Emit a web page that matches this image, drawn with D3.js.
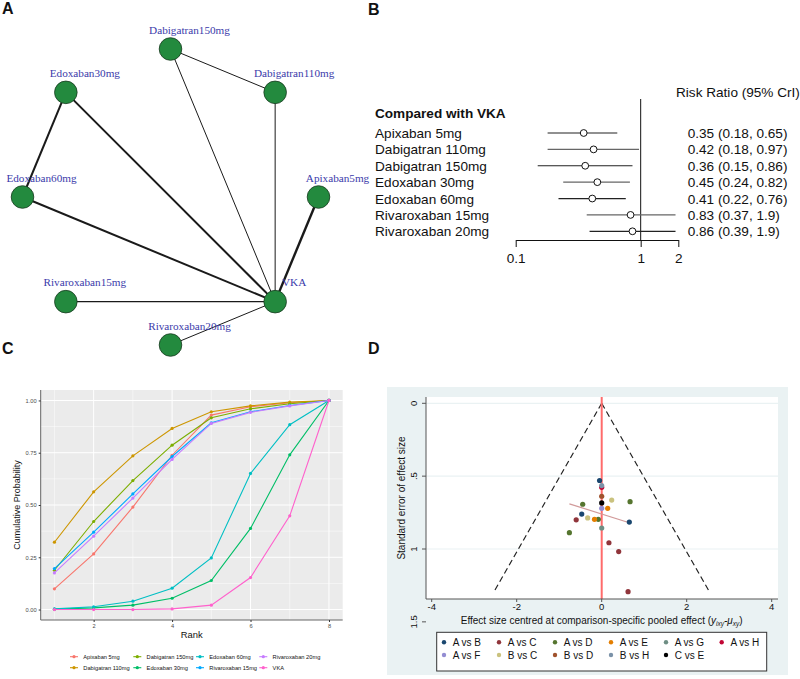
<!DOCTYPE html>
<html><head><meta charset="utf-8">
<script src="https://cdn.jsdelivr.net/npm/d3@7"></script>
<style>body{margin:0;background:#fff} svg{display:block} text{font-family:"Liberation Sans",Arial,sans-serif}</style>
</head><body>
<svg id="c" width="800" height="679"></svg>
<script>
// ---------------- DATA ----------------
// Panel A: network
const netNodes = ["Dabigatran150mg","Dabigatran110mg","Apixaban5mg","VKA","Rivaroxaban20mg","Rivaroxaban15mg","Edoxaban60mg","Edoxaban30mg"];
const netEdgeFrom = ["Dabigatran150mg","Dabigatran150mg","Dabigatran110mg","Edoxaban30mg","Edoxaban30mg","Edoxaban60mg","Apixaban5mg","Rivaroxaban15mg","Rivaroxaban20mg"];
const netEdgeTo   = ["Dabigatran110mg","VKA","VKA","Edoxaban60mg","VKA","VKA","VKA","VKA","VKA"];
const netEdgeWeight = [1,1,1,2,2,2,2.4,1.2,1];

// Panel B: forest
const forestLabels = ["Apixaban 5mg","Dabigatran 110mg","Dabigatran 150mg","Edoxaban 30mg","Edoxaban 60mg","Rivaroxaban 15mg","Rivaroxaban 20mg"];
const rrEst  = [0.35,0.42,0.36,0.45,0.41,0.83,0.86];
const rrLow  = [0.18,0.18,0.15,0.24,0.22,0.37,0.39];
const rrHigh = [0.65,0.97,0.86,0.82,0.76,1.9,1.9];
const rrTicks = [0.1,1,2];

// Panel C: cumulative ranking
const rankSeries = ["Apixaban 5mg","Dabigatran 110mg","Dabigatran 150mg","Edoxaban 30mg","Edoxaban 60mg","Rivaroxaban 15mg","Rivaroxaban 20mg","VKA"];
const ranks = [1,2,3,4,5,6,7,8];
const cumApixaban5   = [0.099,0.266,0.490,0.738,0.930,0.970,0.989,1];
const cumDabigatran110 = [0.322,0.563,0.735,0.866,0.946,0.974,0.992,1];
const cumDabigatran150 = [0.188,0.421,0.617,0.786,0.917,0.960,0.984,1];
const cumEdoxaban30  = [0.002,0.008,0.021,0.054,0.139,0.388,0.740,1];
const cumEdoxaban60  = [0.003,0.013,0.040,0.102,0.247,0.651,0.884,1];
const cumRivaroxaban15 = [0.196,0.370,0.553,0.732,0.893,0.946,0.976,1];
const cumRivaroxaban20 = [0.175,0.351,0.533,0.718,0.890,0.943,0.974,1];
const cumVKA         = [0.000,0.000,0.000,0.003,0.021,0.153,0.448,1];
const rankYTicks = [0,0.25,0.5,0.75,1];
const rankXTicks = [2,4,6,8];

// Panel D: comparison-adjusted funnel
const funnelGroups = ["A vs B","A vs C","A vs D","A vs E","A vs G","A vs H","A vs F","B vs C","B vs D","B vs H","C vs E"];
const funnelPtGroup = ["A vs B","A vs B","A vs B","A vs C","A vs C","A vs C","A vs C","A vs D","A vs D","A vs D","A vs D","A vs E","A vs E","A vs G","A vs H","A vs F","B vs C","B vs C","B vs D","B vs H","C vs E"];
const funnelPtX  = [-0.05,-0.47,0.65,-0.60,0.17,0.40,0.62,0.667,-0.447,-0.08,-0.76,0.141,-0.17,0.00,0.00,0.00,0.235,-0.33,0.00,0.00,0.00];
const funnelPtSE = [0.530,0.760,0.815,0.800,0.957,1.018,1.293,0.675,0.693,0.796,0.888,0.721,0.796,0.856,0.577,0.721,0.664,0.787,0.638,0.565,0.684];
const funnelRegX  = [-0.76,0.65];
const funnelRegSE = [0.69,0.82];
const funnelMaxSE = 1.3;
const funnelXTicks = [-4,-2,0,2,4];
const funnelYTicks = [0,0.5,1,1.5];
const funnelYTickLabels = ["0",".5","1","1.5"];

// ---------------- DRAW ----------------
const svg = d3.select("#c");

// panel letters
[["A",2,14],["B",368,15],["C",2,354],["D",368,354]].forEach(([t,x,y])=>{
  svg.append("text").attr("x",x).attr("y",y).text(t)
    .style("font-weight","bold").style("font-size","16px").attr("fill","#111");
});

// ===== Panel A =====
(function(){
  const cx=170.5, cy=197, R=148;
  const ang = d3.scaleLinear().domain([0,netNodes.length]).range([-Math.PI/2, 1.5*Math.PI]);
  const pos = {};
  netNodes.forEach((n,i)=>{ pos[n]=[cx+R*Math.cos(ang(i)), cy+R*Math.sin(ang(i))]; });
  const g = svg.append("g");
  netEdgeFrom.forEach((f,i)=>{
    const a=pos[f], b=pos[netEdgeTo[i]];
    g.append("line").attr("x1",a[0]).attr("y1",a[1]).attr("x2",b[0]).attr("y2",b[1])
      .attr("stroke","#1a1a1a").attr("stroke-width",netEdgeWeight[i]);
  });
  netNodes.forEach(n=>{
    g.append("circle").attr("cx",pos[n][0]).attr("cy",pos[n][1]).attr("r",11.3)
      .attr("fill","#238a3e").attr("stroke","#183a20").attr("stroke-width",0.8);
  });
  netNodes.forEach(n=>{
    g.append("text").attr("x",pos[n][0]+19).attr("y",pos[n][1]-15.5).attr("text-anchor","middle")
      .style("font-family","'Liberation Serif','Times New Roman',serif").style("font-size","11.2px")
      .attr("fill","#3a3aaa").text(n);
  });
})();

// ===== Panel B =====
(function(){
  const g = svg.append("g");
  const x = d3.scaleLog().domain([0.1,2]).range([515.7,678.3]);
  const y = d3.scalePoint().domain(forestLabels).range([133,231.3]);
  const fs = "13.6px";
  g.append("text").attr("x",676).attr("y",97).style("font-size",fs).attr("fill","#111").text("Risk Ratio (95% CrI)");
  g.append("text").attr("x",375).attr("y",117.5).style("font-size",fs).style("font-weight","bold").attr("fill","#111").text("Compared with VKA");
  g.append("line").attr("x1",x(1)).attr("x2",x(1)).attr("y1",99).attr("y2",240).attr("stroke","#111").attr("stroke-width",1);
  forestLabels.forEach((lab,i)=>{
    const yy=y(lab);
    g.append("text").attr("x",375).attr("y",yy+5).style("font-size",fs).attr("fill","#111").text(lab);
    g.append("line").attr("x1",x(rrLow[i])).attr("x2",x(rrHigh[i])).attr("y1",yy).attr("y2",yy)
      .attr("stroke", i%2===1 ? "#666" : "#222").attr("stroke-width",1.2);
    g.append("circle").attr("cx",x(rrEst[i])).attr("cy",yy).attr("r",3.4)
      .attr("fill","#fff").attr("stroke","#111").attr("stroke-width",1);
    g.append("text").attr("x",687.7).attr("y",yy+5).style("font-size",fs).attr("fill","#111")
      .text(`${rrEst[i]} (${rrLow[i]}, ${rrHigh[i]})`);
  });
  const ax = d3.axisBottom(x).tickValues(rrTicks).tickFormat(d=>String(d)).tickSize(7).tickSizeOuter(0);
  const axg = g.append("g").attr("transform","translate(0,240)").call(ax);
  axg.select(".domain").attr("stroke","#111");
  axg.selectAll(".tick line").attr("stroke","#111");
  axg.selectAll(".tick text").style("font-size",fs).attr("fill","#111").attr("dy","0.95em")
    .style("font-family","'Liberation Sans',Arial,sans-serif");
})();

// ===== Panel C =====
(function(){
  const g = svg.append("g");
  const L=40.7, Rr=342.7, T=390, B=620;
  const x = d3.scaleLinear().domain([0.65,8.35]).range([L,Rr]);
  const y = d3.scaleLinear().domain([-0.05,1.05]).range([B,T]);
  const colors = ["#F8766D","#CD9600","#7CAE00","#00BE67","#00BFC4","#00A9FF","#C77CFF","#FF61CC"];
  const seriesVals = [cumApixaban5,cumDabigatran110,cumDabigatran150,cumEdoxaban30,cumEdoxaban60,cumRivaroxaban15,cumRivaroxaban20,cumVKA];
  g.append("rect").attr("x",L).attr("y",T).attr("width",Rr-L).attr("height",B-T).attr("fill","#EBEBEB");
  // minor grid
  [1,3,5,7].forEach(v=>g.append("line").attr("x1",x(v)).attr("x2",x(v)).attr("y1",T).attr("y2",B).attr("stroke","#fff").attr("stroke-width",0.5));
  [0.125,0.375,0.625,0.875].forEach(v=>g.append("line").attr("x1",L).attr("x2",Rr).attr("y1",y(v)).attr("y2",y(v)).attr("stroke","#fff").attr("stroke-width",0.5));
  rankXTicks.forEach(v=>g.append("line").attr("x1",x(v)).attr("x2",x(v)).attr("y1",T).attr("y2",B).attr("stroke","#fff").attr("stroke-width",1));
  rankYTicks.forEach(v=>g.append("line").attr("x1",L).attr("x2",Rr).attr("y1",y(v)).attr("y2",y(v)).attr("stroke","#fff").attr("stroke-width",1));
  const line = d3.line().x((d,i)=>x(ranks[i])).y(d=>y(d));
  seriesVals.forEach((vals,k)=>{
    g.append("path").attr("d",line(vals)).attr("fill","none").attr("stroke",colors[k]).attr("stroke-width",1.1);
    vals.forEach((v,i)=>g.append("circle").attr("cx",x(ranks[i])).attr("cy",y(v)).attr("r",1.6).attr("fill",colors[k]));
  });
  // axes
  const ay = d3.axisLeft(y).tickValues(rankYTicks).tickFormat(d3.format(".2f")).tickSize(2).tickSizeOuter(0).tickPadding(2);
  const ayg = g.append("g").attr("transform",`translate(${L},0)`).call(ay);
  ayg.select(".domain").attr("d",`M0,${T}V${B}`).attr("stroke","#666");
  ayg.selectAll(".tick line").attr("stroke","#333");
  ayg.selectAll(".tick text").style("font-size","5.7px").attr("fill","#4D4D4D");
  const axb = d3.axisBottom(x).tickValues(rankXTicks).tickSize(2).tickSizeOuter(0).tickPadding(2);
  const axg = g.append("g").attr("transform",`translate(0,${B})`).call(axb);
  axg.select(".domain").attr("d",`M${L},0H${Rr}`).attr("stroke","#666");
  axg.selectAll(".tick line").attr("stroke","#333");
  axg.selectAll(".tick text").style("font-size","5.7px").attr("fill","#4D4D4D");
  g.append("text").attr("transform",`translate(20,${(T+B)/2}) rotate(-90)`).attr("text-anchor","middle")
    .style("font-size","9px").attr("fill","#111").text("Cumulative Probability");
  g.append("text").attr("x",(L+Rr)/2).attr("y",638).attr("text-anchor","middle")
    .style("font-size","9.4px").attr("fill","#111").text("Rank");
  // legend
  const colX = [74,137.3,200,263.3];
  const rowY = [656.7,667.7];
  rankSeries.forEach((s,k)=>{
    const cx = colX[Math.floor(k/2)], cy = rowY[k%2];
    g.append("line").attr("x1",cx-4).attr("x2",cx+4).attr("y1",cy).attr("y2",cy).attr("stroke",colors[k]).attr("stroke-width",1.1);
    g.append("circle").attr("cx",cx).attr("cy",cy).attr("r",1.6).attr("fill",colors[k]);
    g.append("text").attr("x",cx+9.3).attr("y",cy+2).style("font-size","5.7px").attr("fill","#111").text(s);
  });
})();

// ===== Panel D =====
(function(){
  const g = svg.append("g");
  const bg="#EAF2F3";
  g.append("rect").attr("x",387).attr("y",387).attr("width",401).attr("height",288).attr("fill",bg);
  const PL=426, PR=778, PT=397, PB=599;
  g.append("rect").attr("x",PL).attr("y",PT).attr("width",PR-PL).attr("height",PB-PT).attr("fill","#fff");
  const x = d3.scaleLinear().domain([-4,4]).range([431.7,771.7]);
  const y = d3.scaleLinear().domain([0,1]).range([403.3,549]);
  const colors = ["#1a476f","#90353b","#55752f","#e37e00","#6e8e84","#c10534","#938dd2","#cac27e","#a0522d","#7b92a8","#000000"];
  const cmap = {}; funnelGroups.forEach((gname,i)=>cmap[gname]=colors[i]);
  // grid lines
  [0,0.5,1].forEach(v=>g.append("line").attr("x1",PL).attr("x2",PR).attr("y1",y(v)).attr("y2",y(v)).attr("stroke",bg).attr("stroke-width",1.2));
  // funnel
  const lim = 1.96*funnelMaxSE;
  [[-lim],[lim]].forEach(([xe])=>{
    g.append("line").attr("x1",x(0)).attr("y1",y(0)).attr("x2",x(xe)).attr("y2",y(funnelMaxSE))
      .attr("stroke","#222").attr("stroke-width",1.2).attr("stroke-dasharray","6,3.5");
  });
  g.append("line").attr("x1",x(0)).attr("x2",x(0)).attr("y1",PT).attr("y2",PB).attr("stroke","#ff6b6b").attr("stroke-width",2);
  g.append("line").attr("x1",x(funnelRegX[0])).attr("y1",y(funnelRegSE[0])).attr("x2",x(funnelRegX[1])).attr("y2",y(funnelRegSE[1]))
    .attr("stroke","#d19a9a").attr("stroke-width",1.2);
  // points in legend order
  funnelGroups.forEach(gname=>{
    funnelPtGroup.forEach((pg,i)=>{
      if(pg!==gname) return;
      g.append("circle").attr("cx",x(funnelPtX[i])).attr("cy",y(funnelPtSE[i])).attr("r",2.6).attr("fill",cmap[gname]);
    });
  });
  // axes
  g.append("line").attr("x1",PL).attr("x2",PL).attr("y1",PT).attr("y2",PB).attr("stroke","#555").attr("stroke-width",1);
  g.append("line").attr("x1",PL).attr("x2",PR).attr("y1",PB).attr("y2",PB).attr("stroke","#555").attr("stroke-width",1);
  funnelYTicks.forEach((v,i)=>{
    g.append("line").attr("x1",PL-4).attr("x2",PL).attr("y1",y(v)).attr("y2",y(v)).attr("stroke","#555");
    g.append("text").attr("transform",`translate(416.5,${y(v)}) rotate(-90)`).attr("text-anchor","middle")
      .style("font-size","9.5px").attr("fill","#111").text(funnelYTickLabels[i]);
  });
  funnelXTicks.forEach(v=>{
    g.append("line").attr("x1",x(v)).attr("x2",x(v)).attr("y1",PB).attr("y2",PB+3).attr("stroke","#555");
    g.append("text").attr("x",x(v)).attr("y",610).attr("text-anchor","middle").style("font-size","9.5px").attr("fill","#111")
      .text(v<0 ? "-"+Math.abs(v) : String(v));
  });
  g.append("text").attr("transform",`translate(404.5,${(PT+PB)/2}) rotate(-90)`).attr("text-anchor","middle")
    .style("font-size","10px").attr("fill","#111").text("Standard error of effect size");
  const t = g.append("text").attr("x",x(0)).attr("y",624).attr("text-anchor","middle").style("font-size","10px").attr("fill","#111");
  t.append("tspan").text("Effect size centred at comparison-specific pooled effect (");
  t.append("tspan").style("font-style","italic").text("y");
  t.append("tspan").attr("dy",2).style("font-size","6.5px").style("font-style","italic").text("ixy");
  t.append("tspan").attr("dy",-2).style("font-style","italic").text("-μ");
  t.append("tspan").attr("dy",2).style("font-size","6.5px").style("font-style","italic").text("xy");
  t.append("tspan").attr("dy",-2).text(")");
  // legend
  g.append("rect").attr("x",436.7).attr("y",632.3).attr("width",330).attr("height",38.7).attr("fill","#fff").attr("stroke","#333").attr("stroke-width",1);
  const colX=[444,499,555,611,666,721.7];
  const rowY=[642.3,655];
  funnelGroups.forEach((gname,i)=>{
    const cx=colX[i%6], cy=rowY[Math.floor(i/6)];
    g.append("circle").attr("cx",cx).attr("cy",cy).attr("r",2.2).attr("fill",cmap[gname]);
    g.append("text").attr("x",cx+8.7).attr("y",cy+3.6).style("font-size","10px").attr("fill","#111").text(gname);
  });
})();
</script>
</body></html>
